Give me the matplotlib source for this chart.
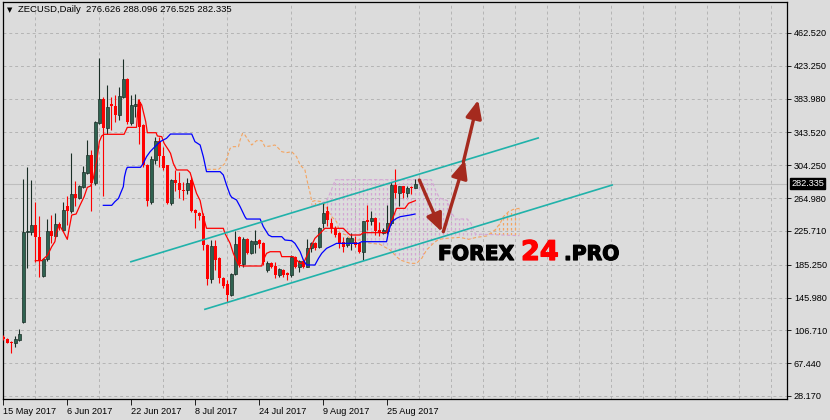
import numpy as np
import matplotlib.pyplot as plt
import matplotlib.patheffects as pe
from matplotlib.patches import Polygon

# daily candles, ZECUSD
opens = [99, 96, 93, 92, 95, 117, 224, 224, 233, 219,
         172, 192, 226, 220, 234, 227, 255, 249, 270, 265,
         278, 295, 317, 283, 355, 383, 349, 377, 375, 364,
         386, 408, 355, 375, 380, 352, 305, 260, 311, 333,
         315, 304, 259, 287, 283, 275, 275, 287, 251, 247,
         243, 209, 168, 208, 193, 169, 162, 149, 174, 219,
         186, 216, 199, 210, 215, 211, 179, 187, 184, 173,
         179, 175, 173, 195, 183, 190, 183, 205, 211, 206,
         235, 249, 235, 229, 223, 212, 209, 211, 213, 211,
         201, 239, 237, 241, 227, 223, 225, 235, 281, 271,
         279, 271, 278, 276.626]
highs = [101, 97, 94, 100, 108, 288, 302, 287, 260, 244,
         193, 240, 245, 247, 236, 260, 267, 319, 285, 281,
         303, 335, 322, 357, 433, 386, 400, 386, 388, 398,
         431, 409, 388, 390, 383, 354, 306, 315, 338, 338,
         326, 305, 288, 299, 296, 284, 289, 290, 252, 248,
         247, 210, 215, 215, 194, 170, 167, 175, 226, 220,
         219, 217, 215, 227, 216, 212, 190, 189, 189, 181,
         180, 176, 197, 196, 191, 191, 216, 213, 213, 230,
         259, 255, 241, 232, 224, 218, 219, 223, 220, 212,
         238, 257, 249, 242, 236, 229, 257, 284, 300, 280,
         280, 280, 279, 288.096]
lows = [95, 91, 80, 87, 94, 116, 181, 221, 188, 171,
        171, 190, 211, 219, 227, 226, 233, 247, 255, 264,
        277, 294, 249, 281, 354, 267, 342, 346, 356, 358,
        385, 354, 352, 362, 330, 302, 255, 258, 306, 302,
        298, 258, 257, 274, 265, 263, 270, 248, 229, 239,
        203, 161, 163, 179, 163, 157, 141, 148, 173, 183,
        183, 198, 198, 199, 205, 185, 176, 181, 169, 171,
        171, 167, 171, 181, 176, 181, 182, 201, 203, 205,
        229, 232, 223, 219, 205, 200, 206, 203, 207, 199,
        191, 227, 233, 221, 220, 222, 222, 233, 265, 255,
        265, 266, 270, 276.525]
closes = [96, 92, 92, 96, 102, 224, 226, 233, 219, 190,
          192, 225, 220, 234, 231, 251, 250, 270, 265, 279,
          296, 317, 283, 356, 383, 349, 374, 375, 364, 387,
          408, 356, 376, 377, 350, 305, 261, 312, 333, 315,
          301, 259, 287, 283, 275, 273, 283, 250, 247, 243,
          209, 168, 208, 191, 169, 160, 149, 174, 210, 186,
          216, 199, 214, 214, 210, 189, 187, 183, 173, 180,
          173, 173, 194, 183, 190, 183, 205, 211, 205, 229,
          247, 239, 229, 221, 211, 207, 217, 217, 209, 201,
          237, 236, 241, 225, 223, 227, 235, 281, 271, 279,
          271, 277, 276.6, 282.335]

# ichimoku lines, (bar, price) vertices
tenkan = [(8, 190.1), (9.6, 190.1), (11.1, 196.8), (12.1, 206.8), (12.9, 212.8), (13.3, 224.8),
          (14, 232.8), (15, 224.8), (16, 215.6), (16.4, 226.8), (17.1, 244.7), (18.2, 245.9),
          (19.2, 256.7), (20.2, 266.6), (21, 277.8), (21.8, 279.4), (22.5, 288.6), (23.5, 314.5),
          (24, 332.5), (24.6, 339.3), (25.2, 341.3), (30.2, 341.3), (31, 349.6), (33.3, 349.6),
          (33.8, 382.3), (34.6, 376.3), (35.2, 364.4), (35.6, 356.4), (36, 343.2), (38.2, 343.2),
          (38.5, 339.3), (39.6, 338.5), (40.2, 330.5), (41.3, 322.5), (41.8, 318.5), (42.5, 306.5),
          (43.3, 298.6), (46, 298.6), (46.7, 295.4), (47.3, 285.8), (48.3, 270.6), (49.2, 262),
          (50, 242.7), (50.8, 228.8), (55, 228.8), (55.4, 222.8), (56.7, 210.8), (57.5, 198.8),
          (58.8, 184.9), (60, 183.7), (64.6, 183.7), (65, 190.9), (65.8, 198.8), (66.7, 200.8),
          (69.2, 200.8), (69.6, 194.9), (72.5, 194.9), (73.3, 190.9), (74.2, 186.9), (75, 186.9),
          (75.8, 194.9), (76.7, 204.8), (77.9, 216.8), (79.2, 222.8), (80.4, 228.8), (85, 228.8),
          (85.8, 224.8), (86.7, 220.8), (89.2, 220.8), (90, 223.6), (95.8, 223.6), (96.7, 234.7),
          (97.5, 242.7), (98.3, 252.7), (100.4, 252.7), (101.3, 258.7), (103, 261.9)]
kijun = [(25, 256.3), (27.1, 256.3), (27.9, 260.7), (28.8, 264.6), (29.3, 270.6), (30, 278.6),
         (30.3, 290.6), (30.7, 298.6), (31, 301.8), (34.3, 301.8), (35, 306.5), (35.8, 314.5),
         (36.7, 320.5), (37.5, 324.5), (39.2, 332.5), (40.8, 336.5), (41.8, 341.6), (47.1, 341.6),
         (47.9, 332.5), (49.2, 328.5), (50, 314.5), (50.8, 296.6), (54.2, 296.6), (55, 292.6),
         (55.8, 280.6), (56.7, 268.7), (57.1, 265.9), (58.3, 262.7), (59.2, 254.7), (60.4, 242.7),
         (60.8, 239.9), (64.2, 239.9), (65, 230.8), (66.3, 220.8), (67.1, 218.8), (69.6, 218.8),
         (70.4, 214.8), (72.1, 214), (72.9, 210.8), (74.2, 200.8), (75, 190.9), (75.8, 184.9),
         (77.9, 184.9), (78.8, 192.9), (79.6, 198.9), (80.8, 204.8), (82.5, 208.8), (83.3, 210.8),
         (88.8, 210.8), (89.6, 212.8), (95.8, 212.8), (96.3, 224.8), (97.1, 236.7), (98.3, 240.7),
         (99.2, 242.7), (101.7, 244.7), (102.9, 245.9)]
span_a = [(51, 299.4), (53.8, 299.4), (54.6, 302.6), (55.4, 306.5), (56, 314.5), (56.7, 324.5),
          (57.5, 326.5), (58.8, 326.5), (59.2, 334.5), (59.8, 342.4), (60.4, 340.5), (61.3, 333.7),
          (62.1, 328.5), (63.3, 333.7), (64.6, 333.7), (65.4, 326.5), (66.7, 327.3), (67.9, 328.5),
          (68.8, 324.5), (69.6, 320.5), (70.8, 319.3), (72.1, 320.5), (73.3, 314.5), (74.2, 304.6),
          (75.4, 298.6), (76, 284.6), (76.7, 270.7), (77.1, 260.7), (77.9, 261.9), (79.6, 260.7),
          (80.4, 256.7), (81.3, 248.7), (82.1, 242.7), (83.3, 236.7), (84.2, 222.8), (85.8, 220.8),
          (87.1, 214.8), (89.2, 214.8), (90.8, 211.6), (94.2, 209.5), (96.7, 202.8), (98.3, 194.9),
          (99.2, 190.9), (101.7, 186.9), (103.3, 186.9), (104.6, 192.9), (105.8, 202.8), (107.5, 210.8),
          (108.8, 215.6), (110.8, 216.8), (114.2, 218), (116.3, 215.6), (118.3, 218), (120.8, 219.6),
          (122.9, 226.8), (124.2, 234.8), (125, 242.7), (126.3, 248.7), (127.5, 251.5), (129, 252.7)]
span_b = [(77, 256.5), (79, 256.5), (80, 260), (81, 263.5), (82, 274.5), (83, 287), (107, 287),
          (108, 275), (109, 265), (111, 262), (112, 248), (113, 240), (116, 240), (117, 234),
          (118, 222), (129, 220)]

# hand drawn objects
channel_upper = [(31.9, 188.8), (133.7, 336.9)]
channel_lower = [(50.4, 131.9), (152.2, 280.6)]
arrow_moves = [((104.0, 286.6), (109.6, 224.7)),
               ((110.0, 224.7), (115.4, 310.5)),
               ((115.0, 308.1), (118.7, 382.3))]

price_ticks = [28.17, 67.44, 106.71, 145.98, 185.25, 225.71, 264.98,
               304.25, 343.52, 383.98, 423.25, 462.52]
date_ticks = [0, 16, 32, 48, 64, 80, 96]
date_labels = ['15 May 2017', '6 Jun 2017', '22 Jun 2017', '8 Jul 2017',
               '24 Jul 2017', '9 Aug 2017', '25 Aug 2017']
last_price = 282.335

bg = '#DCDCDC'
plt.rcParams['font.family'] = 'Liberation Sans'

fig = plt.figure(figsize=(8.3, 4.2), dpi=100, facecolor=bg)
ax = fig.add_axes([2.5 / 830, 21 / 420, 784.5 / 830, 397 / 420], facecolor=bg)

o = np.array(opens); h = np.array(highs); l = np.array(lows); c = np.array(closes)
x = np.arange(len(o))
up = c >= o
bull_fill, bull_edge = '#2F6250', '#1A2E26'

ax.vlines(x[up], l[up], h[up], color=bull_edge, lw=0.8, zorder=3)
ax.vlines(x[~up], l[~up], h[~up], color='#FF0000', lw=0.8, zorder=3)
ax.bar(x[up], np.maximum(c[up] - o[up], 0.8), bottom=o[up], width=0.72,
       color=bull_fill, edgecolor=bull_edge, lw=0.5, zorder=3.5)
ax.bar(x[~up], np.maximum(o[~up] - c[~up], 0.8), bottom=c[~up], width=0.72,
       color='#FF0000', lw=0, zorder=3.5)

# cloud: dotted vertical hatch clipped to the area between the spans
cloud_pts = [p for p in span_a if p[0] >= 77] + span_b[::-1]
cloud = Polygon(cloud_pts, closed=True, transform=ax.transData)
hatch_pink = ax.vlines(np.arange(80, 122), 0, 600, colors='#D4A6D4',
                       linestyles=(0, (2, 2)), lw=0.9, zorder=1.5)
hatch_pink.set_clip_path(cloud)
hatch_orange = ax.vlines(np.r_[77:80, 122:130], 0, 600, colors='#F4A460',
                         linestyles=(0, (2, 2)), lw=0.9, zorder=1.5)
hatch_orange.set_clip_path(cloud)

ax.plot(*zip(*span_a), color='#F4A460', lw=0.8, ls=(0, (3, 2)), zorder=2)
ax.plot(*zip(*span_b), color='#D4A6D4', lw=0.8, ls=(0, (3, 2)), zorder=2)
ax.plot(*zip(*tenkan), color='#FF0000', lw=0.9, zorder=4)
ax.plot(*zip(*kijun), color='#0000FF', lw=0.9, zorder=4)

ax.plot(*zip(*channel_upper), color='#20B2AA', lw=1.2, zorder=5)
ax.plot(*zip(*channel_lower), color='#20B2AA', lw=1.2, zorder=5)

for start, end in arrow_moves:
    ax.annotate('', xy=end, xytext=start, zorder=6,
                arrowprops=dict(arrowstyle='-|>,head_length=0.9,head_width=0.4',
                                mutation_scale=12, color='#A52A1E', lw=2.4,
                                shrinkA=0, shrinkB=0))

ax.axhline(last_price, color='#BEBEBE', lw=0.8, zorder=1)

ax.set_xlim(-0.2, 195.9)
ax.set_ylim(24.56, 499.6)

ax.yaxis.tick_right()
ax.set_yticks(price_ticks)
ax.set_yticklabels(['%.3f' % v for v in price_ticks], fontsize=6.6)
ax.tick_params(axis='y', direction='out', length=3, width=0.6, pad=2)

ax.set_xticks(date_ticks)
ax.set_xticklabels(date_labels, fontsize=6.6, ha='left')
ax.set_xticks(np.arange(8, 196, 8), minor=True)
ax.tick_params(axis='x', which='major', direction='out', length=4, width=0.6, pad=2)
ax.tick_params(axis='x', which='minor', length=0)

ax.grid(axis='y', which='major', color='#B4B4B4', ls=(0, (3, 3)), lw=0.7)
ax.grid(axis='x', which='minor', color='#B4B4B4', ls=(0, (3, 3)), lw=0.7)
ax.set_axisbelow(True)
for s in ax.spines.values():
    s.set_linewidth(0.9)
    s.set_color('black')

ax.annotate('%.3f' % last_price, xy=(1.0, last_price), xycoords=('axes fraction', 'data'),
            xytext=(3, 0), textcoords='offset points', ha='left', va='center',
            fontsize=6.6, color='white',
            bbox=dict(boxstyle='square,pad=0.15', fc='black', ec='black'))

fig.text(7 / 830, 1 - 10 / 420, '\u25BC', fontsize=5, va='center', family='DejaVu Sans')
fig.text(18 / 830, 1 - 10 / 420, 'ZECUSD,Daily  276.626 288.096 276.525 282.335',
         fontsize=6.8, va='center')

# watermark, slightly thickened with a same-colour stroke
logo_y = (399 - 260) / 397
for txt, xpix, size, col in [('FOREX', 438, 14.6, 'black'), ('24', 521, 19.5, '#FF0000'),
                             ('.PRO', 564, 14.6, 'black')]:
    ax.text((xpix - 2.5) / 784.5, logo_y, txt, transform=ax.transAxes, fontsize=size,
            weight='bold', family='DejaVu Sans', color=col, va='baseline', zorder=7,
            path_effects=[pe.withStroke(linewidth=0.9, foreground=col)])

fig.savefig('out.png', dpi=100, facecolor=bg)
